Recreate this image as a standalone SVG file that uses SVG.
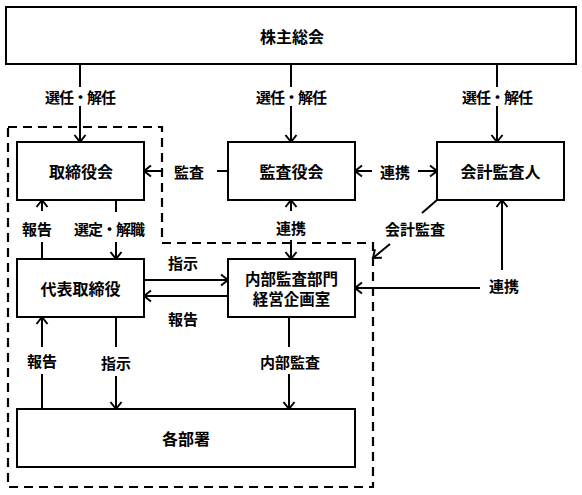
<svg xmlns="http://www.w3.org/2000/svg" width="582" height="495" viewBox="0 0 582 495">
<defs>
<style>
.box{fill:#fff;stroke:#000;stroke-width:2}
.t{font-family:"Noto Sans CJK JP","Noto Sans",sans-serif;font-weight:700;font-size:16px;text-anchor:middle;dominant-baseline:central;fill:#000}
.t2{font-size:15.5px}
.l{font-family:"Noto Sans CJK JP","Noto Sans",sans-serif;font-weight:700;font-size:15px;text-anchor:middle;dominant-baseline:central;fill:#000}
.s{letter-spacing:-1px}
.c{fill:none;stroke:#000;stroke-width:2}
.a{fill:none;stroke:#000;stroke-width:2;marker-end:url(#arr)}
.d{fill:none;stroke:#000;stroke-width:2.2;stroke-dasharray:9 6}
</style>
<marker id="arr" markerWidth="12" markerHeight="14" refX="9" refY="7" orient="auto" markerUnits="userSpaceOnUse" viewBox="0 0 12 14">
<path d="M2,1.5 L9,7 L2,12.5" fill="none" stroke="#000" stroke-width="2"/>
</marker>
</defs>
<rect width="582" height="495" fill="#fff"/>
<path class="d" d="M8,127 H162 V243 H373 V487 H8 Z"/>
<g id="connectors">
<path class="c" d="M80,64 V87"/><path class="a" d="M80,106 V142"/>
<path class="c" d="M291,64 V87"/><path class="a" d="M291,106 V142"/>
<path class="c" d="M497,64 V87"/><path class="a" d="M497,106 V142"/>
<path class="c" d="M228,171 H217"/><path class="a" d="M163,171 H144"/>
<path class="a" d="M372,171 H355"/><path class="a" d="M418,171 H437"/>
<path class="a" d="M291,211 V200"/><path class="a" d="M291,240 V259"/>
<path class="a" d="M42,211 V200"/><path class="c" d="M42,242 V259"/>
<path class="c" d="M116,200 V212"/><path class="a" d="M116,242 V259"/>
<path class="a" d="M144,280 H228"/>
<path class="a" d="M228,296 H144"/>
<path class="c" d="M42,409 V374"/><path class="a" d="M42,347 V317"/>
<path class="c" d="M116,317 V347"/><path class="a" d="M116,376 V409"/>
<path class="c" d="M289,317 V347"/><path class="a" d="M289,374 V409"/>
<path class="a" d="M502,270 V200"/><path class="a" d="M480,288 H355"/>
<path class="c" d="M437,200 L422,213"/><path class="a" d="M390,244 L373,258"/>
<text class="l s" x="80" y="96">選任・解任</text>
<text class="l s" x="291" y="96">選任・解任</text>
<text class="l s" x="497" y="96">選任・解任</text>
<text class="l" x="189" y="171">監査</text>
<text class="l" x="395" y="171">連携</text>
<text class="l" x="291" y="227">連携</text>
<text class="l" x="37" y="228">報告</text>
<text class="l s" x="109" y="228">選定・解職</text>
<text class="l" x="183" y="262">指示</text>
<text class="l" x="183" y="318">報告</text>
<text class="l" x="42" y="360">報告</text>
<text class="l" x="116" y="362">指示</text>
<text class="l" x="290" y="361">内部監査</text>
<text class="l" x="504" y="285">連携</text>
<text class="l" x="415" y="228">会計監査</text>
</g>
<g id="shareholders"><rect class="box" x="6" y="7" width="570" height="57"/><text class="t" x="292" y="35.5">株主総会</text></g>
<g id="board"><rect class="box" x="17" y="142" width="127" height="58"/><text class="t" x="81" y="171">取締役会</text></g>
<g id="auditors"><rect class="box" x="228" y="142" width="127" height="58"/><text class="t" x="291.5" y="171">監査役会</text></g>
<g id="accounting-auditor"><rect class="box" x="437" y="142" width="127" height="58"/><text class="t" x="500.5" y="171">会計監査人</text></g>
<g id="representative"><rect class="box" x="17" y="259" width="127" height="58"/><text class="t" x="80.5" y="288">代表取締役</text></g>
<g id="internal-audit"><rect class="box" x="228" y="259" width="127" height="58"/><text class="t t2" x="291.5" y="278">内部監査部門</text><text class="t t2" x="291.5" y="298">経営企画室</text></g>
<g id="departments"><rect class="box" x="17" y="409" width="338" height="58"/><text class="t" x="186" y="438">各部署</text></g>
</svg>
